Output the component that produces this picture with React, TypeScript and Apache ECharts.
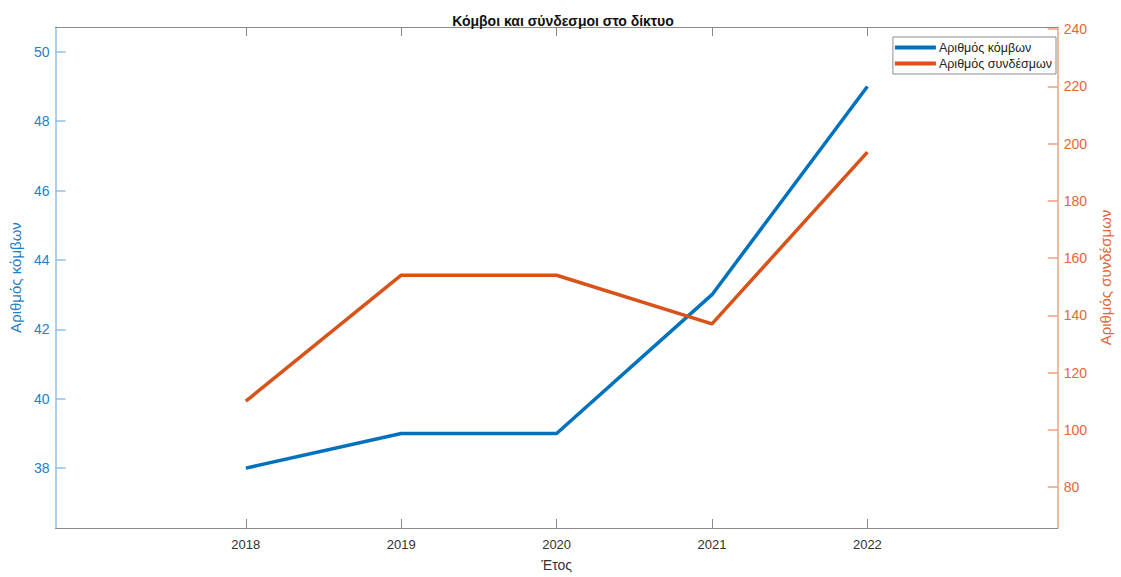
import React, { useEffect, useRef } from "react";
import * as echarts from "echarts";

const years = [2018, 2019, 2020, 2021, 2022];
const nodes = [38, 39, 39, 43, 49];
const links = [110, 154, 154, 137, 197];
const leftTicks = [38, 40, 42, 44, 46, 48, 50];
const rightTicks = [80, 100, 120, 140, 160, 180, 200, 220, 240];

const BLUE = "#0072BD";
const ORANGE = "#D95319";
const FONT = "Liberation Sans, Arial, Helvetica, sans-serif";

export default function App() {
  const ref = useRef<HTMLDivElement>(null);
  useEffect(() => {
    if (!ref.current) return;
    const chart = echarts.init(ref.current, undefined, { renderer: "svg" });
    const xCommon = {
      type: "value" as const,
      min: 2016.775,
      max: 2023.225,
      splitLine: { show: false },
    };
    chart.setOption({
      animation: false,
      textStyle: { fontFamily: FONT },
      title: {
        text: "Κόμβοι και σύνδεσμοι στο δίκτυο",
        left: 558,
        textAlign: "center",
        top: 9,
        textStyle: { fontSize: 14, fontWeight: "bold", color: "#111", fontFamily: FONT },
      },
      legend: {
        orient: "vertical",
        right: 65,
        top: 37,
        padding: [4, 4, 4, 2],
        itemGap: 3,
        itemWidth: 41,
        itemHeight: 4,
        icon: "rect",
        borderColor: "#8c8c8c",
        borderWidth: 1,
        backgroundColor: "#fff",
        textStyle: { fontSize: 12.5, color: "#222", fontFamily: FONT, padding: [0, 0, 0, -2] },
        data: ["Αριθμός κόμβων", "Αριθμός συνδέσμων"],
      },
      grid: { left: 52, right: 56, top: 27, bottom: 45, containLabel: false },
      xAxis: [
        {
          ...xCommon,
          position: "bottom",
          name: "Έτος",
          nameLocation: "middle",
          nameGap: 30,
          nameTextStyle: { fontSize: 14, color: "#333", fontFamily: FONT },
          axisLine: { show: true, lineStyle: { color: "#8a8a8a", width: 1 } },
          axisTick: { show: true, inside: true, length: 9, customValues: years, lineStyle: { color: "#8a8a8a" } },
          axisLabel: {
            customValues: years,
            formatter: (v: number) => String(Math.round(v)),
            fontSize: 13,
            color: "#333",
            margin: 10,
            fontFamily: FONT,
          },
        },
        {
          ...xCommon,
          position: "top",
          axisLine: { show: true, lineStyle: { color: "#8a8a8a", width: 1 } },
          axisTick: { show: true, inside: true, length: 9, customValues: years, lineStyle: { color: "#8a8a8a" } },
          axisLabel: { show: false },
        },
      ],
      yAxis: [
        {
          type: "value",
          position: "left",
          min: 36.275,
          max: 50.715,
          splitLine: { show: false },
          name: "Αριθμός κόμβων",
          nameLocation: "middle",
          nameGap: 27,
          nameTextStyle: { fontSize: 15, color: "#1f80c8", fontFamily: FONT },
          axisLine: { show: true, lineStyle: { color: "#8fc0e6", width: 1.5 } },
          axisTick: { show: true, inside: true, length: 10, customValues: leftTicks, lineStyle: { color: "#8fc0e6", width: 1.5 } },
          axisLabel: { customValues: leftTicks, fontSize: 14, color: "#1f80c8", margin: 6, fontFamily: FONT },
        },
        {
          type: "value",
          position: "right",
          min: 65.7,
          max: 240.7,
          splitLine: { show: false },
          name: "Αριθμός συνδέσμων",
          nameLocation: "middle",
          nameGap: 38,
          nameRotate: 90,
          nameTextStyle: { fontSize: 15, color: "#e0683a", fontFamily: FONT },
          axisLine: { show: true, lineStyle: { color: "#f0a080", width: 1.5 } },
          axisTick: { show: true, inside: true, length: 10, customValues: rightTicks, lineStyle: { color: "#f0a080", width: 1.5 } },
          axisLabel: { customValues: rightTicks, fontSize: 14, color: "#e0683a", margin: 6, fontFamily: FONT },
        },
      ],
      series: [
        {
          name: "Αριθμός κόμβων",
          type: "line",
          xAxisIndex: 0,
          yAxisIndex: 0,
          data: years.map((y, i) => [y, nodes[i]]),
          showSymbol: false,
          symbol: "none",
          lineStyle: { color: BLUE, width: 3.5 },
          itemStyle: { color: BLUE },
        },
        {
          name: "Αριθμός συνδέσμων",
          type: "line",
          xAxisIndex: 0,
          yAxisIndex: 1,
          data: years.map((y, i) => [y, links[i]]),
          showSymbol: false,
          symbol: "none",
          lineStyle: { color: ORANGE, width: 3.5 },
          itemStyle: { color: ORANGE },
        },
      ],
    });
    return () => chart.dispose();
  }, []);
  return <div ref={ref} style={{ width: 1121, height: 577, position: "absolute", left: 0, top: 0 }} />;
}
